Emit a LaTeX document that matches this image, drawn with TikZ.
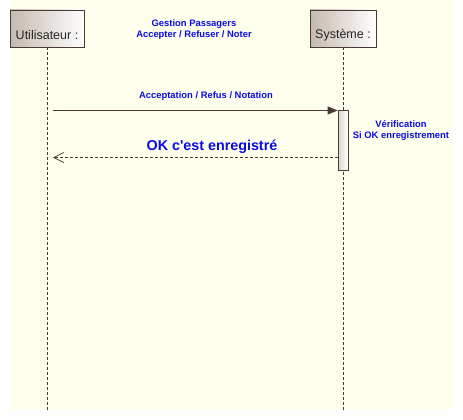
\documentclass[tikz,border=0pt]{standalone}
\usepackage{fontspec}
\setmainfont{Liberation Sans}
\usepackage{tikz}
\usetikzlibrary{arrows.meta,positioning,backgrounds}

\definecolor{fond}{HTML}{FFFFEE}
\definecolor{trait}{HTML}{4A3A32}
\definecolor{ombre}{HTML}{C4B9AF}
\definecolor{texte}{HTML}{0A0AE6}

\begin{document}
\begin{tikzpicture}[x=1pt, y=-1pt,
    acteur/.style={rectangle, draw=trait, line width=0.8pt, minimum width=74pt, minimum height=37pt, left color=ombre, right color=white},
    libelle/.style={font=\fontsize{12.5}{14}\selectfont, text=black!85},
    message/.style={font=\bfseries\fontsize{9.4}{11}\selectfont, text=texte, align=center, inner sep=0pt},
    vie/.style={trait, dashed, dash pattern=on 3pt off 2pt, line width=0.8pt},
    activation/.style={rectangle, draw=trait, line width=0.8pt, minimum width=10pt, minimum height=60pt, inner sep=0pt, left color=ombre!60, right color=white}]

    % Cadre
    \useasboundingbox (0,0) rectangle (463,420);
    \fill[fond] (10,0) rectangle (453,410);

    % Acteurs
    \node[acteur] (user) at (47,28.5) {};
    \node[acteur, minimum width=66pt] (sys) at (343,28.5) {};
    \node[libelle] at (47,35) {Utilisateur :};
    \node[libelle] at (343,35) {Système :};

    % Lignes de vie
    \coordinate (userbas) at (47,410);
    \coordinate (sysbas) at (343,410);
    \draw[vie] (user.south) -- (userbas);
    \draw[vie] (sys.south) -- (sysbas);

    % Activation
    \node[activation] (act) at (343,140) {};
    \coordinate (depart) at (53,110.5);
    \coordinate (retour) at (53,157.5);

    % Messages
    \draw[trait, line width=1pt, -{Triangle[length=10pt, width=8pt]}] (depart) -- (depart -| act.west);
    \draw[trait, line width=0.8pt, dashed, dash pattern=on 3pt off 2pt, -{Straight Barb[length=10pt, width=10pt, line width=0.7pt]}] (retour -| act.west) -- (retour);

    % Textes
    \node[message] (titre) at (194,30) {Gestion Passagers\\Accepter / Refuser / Noter};
    \node[message] (m1) at (206,96) {Acceptation / Refus / Notation};
    \node[message, font=\bfseries\fontsize{14.3}{16}\selectfont] (m2) at (212,147) {OK c\textquotesingle est enregistré};
    \node[message] (verif) at (401,130.5) {Vérification\\Si OK enregistrement};
\end{tikzpicture}
\end{document}
